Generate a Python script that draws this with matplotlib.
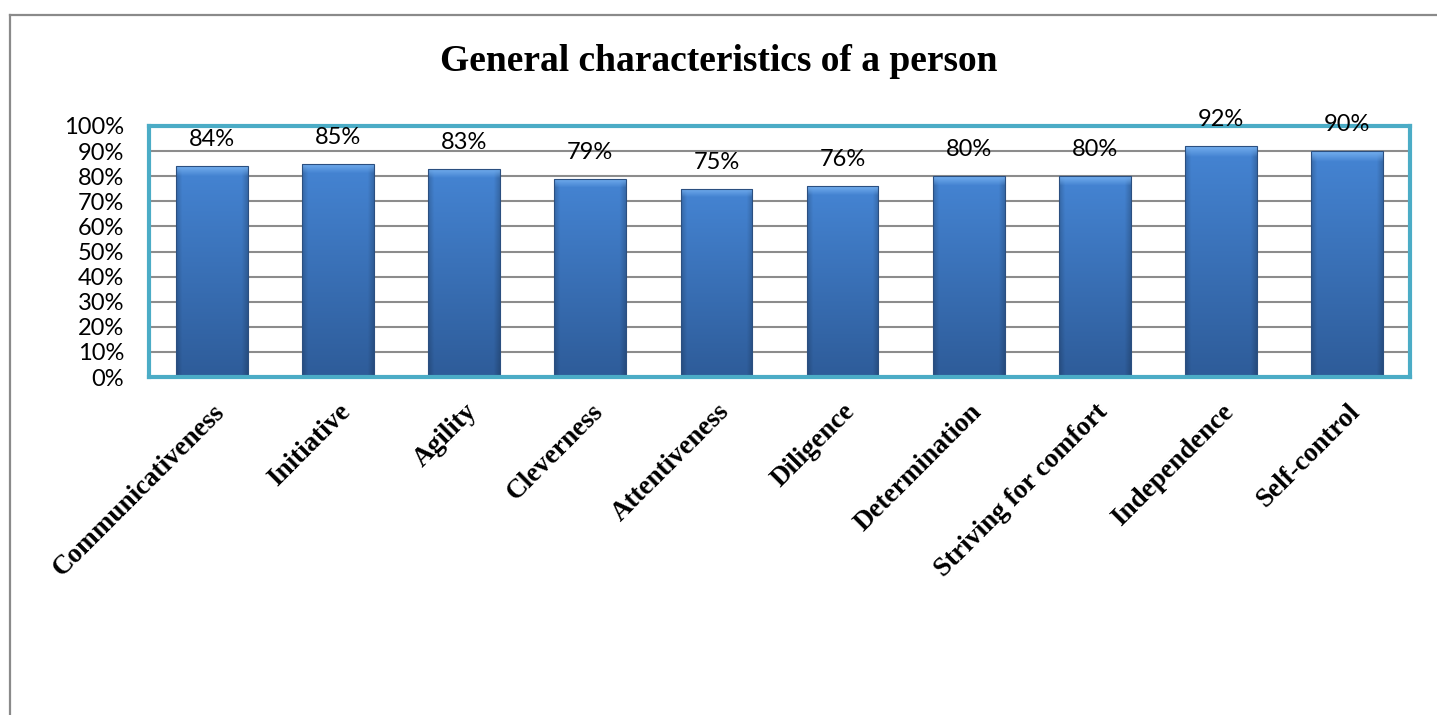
import numpy as np
import matplotlib
matplotlib.use("Agg")
import matplotlib.pyplot as plt
from matplotlib.lines import Line2D
from matplotlib.ticker import FuncFormatter

# Datos del grafico
categorias = ['Communicativeness', 'Initiative', 'Agility', 'Cleverness', 'Attentiveness',
              'Diligence', 'Determination', 'Striving for comfort', 'Independence', 'Self-control']
valores = [84, 85, 83, 79, 75, 76, 80, 80, 92, 90]
ticks_y = [0, 10, 20, 30, 40, 50, 60, 70, 80, 90, 100]
titulo = 'General characteristics of a person'

fig = plt.figure(figsize=(14.37, 7.15), dpi=100)
ax = fig.add_axes([149/1437, 338/715, 1261/1437, 251/715])

x = np.arange(len(categorias))
ancho = 0.57

# barras base
bars = ax.bar(x, valores, width=ancho, color='#3a70b8', zorder=3)

# degradado tipo Excel dentro de cada barra
ny, nx = 200, 60
t = np.linspace(0, 1, ny).reshape(-1, 1)
abajo = np.array([0.18, 0.36, 0.60])
arriba = np.array([0.27, 0.52, 0.83])
col = abajo + (arriba - abajo) * t[..., None]
col = np.repeat(col, nx, axis=1)
s = np.linspace(0, 1, nx)
lado = 1 - 0.18 * np.clip(1 - np.minimum(s, 1 - s) / 0.08, 0, 1)
col = col * lado[None, :, None]
brillo = np.clip((t - 0.955) / 0.045, 0, 1)[..., None]
col = col * (1 - brillo) + np.array([0.45, 0.68, 0.93]) * brillo
col = np.clip(col, 0, 1)
for b in bars:
    im = ax.imshow(col, extent=[b.get_x(), b.get_x() + b.get_width(), 0, b.get_height()],
                   origin='lower', aspect='auto', zorder=3.1, interpolation='bilinear')
    im.set_clip_path(b)
ax.bar(x, valores, width=ancho, facecolor='none', edgecolor='#2b4f80', linewidth=0.8, zorder=3.2)

for xi, v in zip(x, valores):
    ax.annotate(f'{v}%', (xi, v), xytext=(0, 19), textcoords='offset points',
                ha='center', va='center', fontsize=17, family='Lato', zorder=5)

ax.set_xlim(-0.5, len(categorias) - 0.5)
ax.set_ylim(0, 100)
ax.set_yticks(ticks_y)
ax.yaxis.set_major_formatter(FuncFormatter(lambda v, p: f'{int(v)}%'))
ax.yaxis.grid(True, color='#8c8c8c', linewidth=1.5)
ax.set_axisbelow(True)
ax.tick_params(axis='y', length=0, pad=18, labelsize=17)
for lab in ax.get_yticklabels():
    lab.set_family('Lato')
ax.set_xticks(x)
ax.set_xticklabels(categorias, rotation=45, ha='right', rotation_mode='anchor',
                   fontsize=19.5, family='Liberation Serif', fontweight='bold')
ax.tick_params(axis='x', length=0, pad=16)
for sp in ax.spines.values():
    sp.set_color('#4bacc6')
    sp.set_linewidth(3)
    sp.set_zorder(4)

fig.text(0.5, 1 - 71/715, titulo, ha='center', va='baseline', fontsize=27,
         family='Liberation Serif', fontweight='bold')

# marco exterior gris
x0 = 10/1437
y0 = 1 - 15/715
fig.add_artist(Line2D([x0, x0], [-0.01, y0], color='#8a8a8a', linewidth=1.6, transform=fig.transFigure))
fig.add_artist(Line2D([x0, 1.01], [y0, y0], color='#8a8a8a', linewidth=1.6, transform=fig.transFigure))

fig.savefig('out.png', dpi=100)
